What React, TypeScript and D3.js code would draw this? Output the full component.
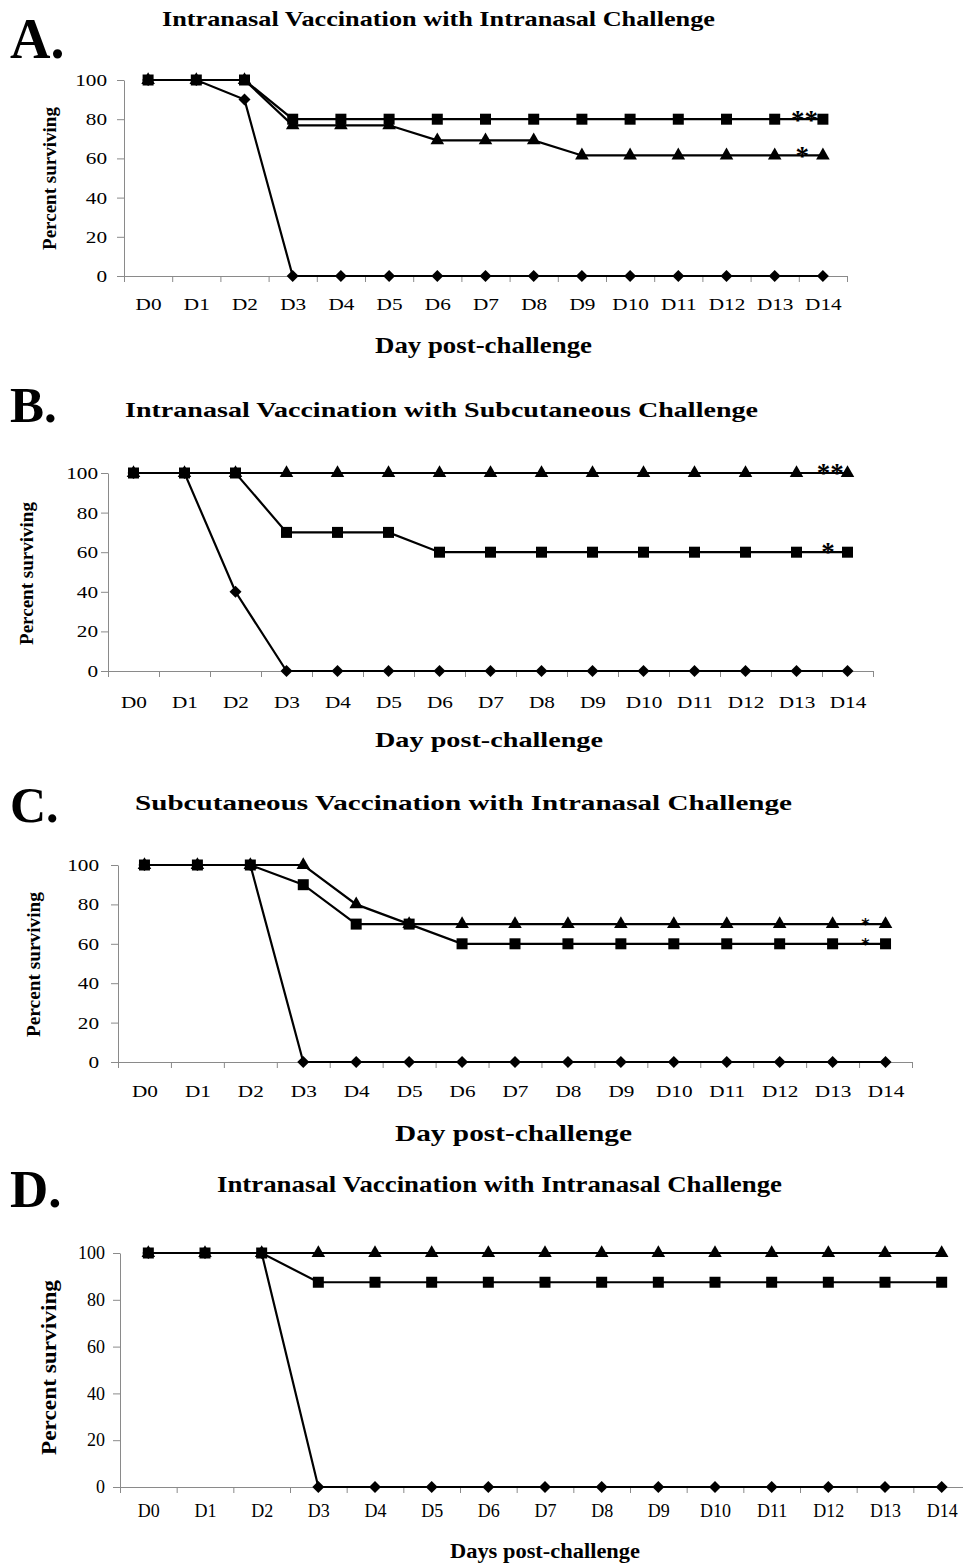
import React, { useEffect, useRef } from "react";
import * as d3 from "d3";

// days on the x axis, same for every panel
const days = ["D0", "D1", "D2", "D3", "D4", "D5", "D6", "D7", "D8", "D9", "D10", "D11", "D12", "D13", "D14"];
const yTicks = [0, 20, 40, 60, 80, 100];

const titleA = "Intranasal Vaccination with Intranasal Challenge";
const titleB = "Intranasal Vaccination with Subcutaneous Challenge";
const titleC = "Subcutaneous Vaccination with Intranasal Challenge";
const titleD = "Intranasal Vaccination with Intranasal Challenge";
const dayTitle = "Day post-challenge";
const daysTitle = "Days post-challenge";
const yTitle = "Percent surviving";

// panel A
const aDiamond = [100, 100, 90, 0, 0, 0, 0, 0, 0, 0, 0, 0, 0, 0, 0];
const aTriangle = [100, 100, 100, 76.9, 76.9, 76.9, 69.2, 69.2, 69.2, 61.5, 61.5, 61.5, 61.5, 61.5, 61.5];
const aSquare = [100, 100, 100, 80, 80, 80, 80, 80, 80, 80, 80, 80, 80, 80, 80];
const aStars = [{ label: "**", at: 13.62, value: 80 }, { label: "*", at: 13.57, value: 61.5 }];

// panel B
const bDiamond = [100, 100, 40, 0, 0, 0, 0, 0, 0, 0, 0, 0, 0, 0, 0];
const bTriangle = [100, 100, 100, 100, 100, 100, 100, 100, 100, 100, 100, 100, 100, 100, 100];
const bSquare = [100, 100, 100, 70, 70, 70, 60, 60, 60, 60, 60, 60, 60, 60, 60];
const bStars = [{ label: "**", at: 13.66, value: 100 }, { label: "*", at: 13.62, value: 60 }];

// panel C
const cDiamond = [100, 100, 100, 0, 0, 0, 0, 0, 0, 0, 0, 0, 0, 0, 0];
const cTriangle = [100, 100, 100, 100, 80, 70, 70, 70, 70, 70, 70, 70, 70, 70, 70];
const cSquare = [100, 100, 100, 90, 70, 70, 60, 60, 60, 60, 60, 60, 60, 60, 60];
const cStars = [{ label: "*", at: 13.62, value: 70 }, { label: "*", at: 13.62, value: 60 }];

// panel D
const dDiamond = [100, 100, 100, 0, 0, 0, 0, 0, 0, 0, 0, 0, 0, 0, 0];
const dTriangle = [100, 100, 100, 100, 100, 100, 100, 100, 100, 100, 100, 100, 100, 100, 100];
const dSquare = [100, 100, 100, 87.5, 87.5, 87.5, 87.5, 87.5, 87.5, 87.5, 87.5, 87.5, 87.5, 87.5, 87.5];
const dStars: { label: string; at: number; value: number }[] = [];

const FONT = "'Liberation Serif', 'Times New Roman', Times, serif";
const STAR_FONT_C = "'DejaVu Sans', sans-serif";
const AXIS = "#8a8a8a";

// layout of the four stacked panels (pixels)
const panels = [
  {
    letter: "A.", title: titleA, xTitle: dayTitle, diamond: aDiamond, triangle: aTriangle, square: aSquare, stars: aStars,
    letterBase: 58, letterSize: 56, titleX: [162, 715], titleBase: 26, titleSize: 22,
    x: [124, 847], y: [276, 80], yPad: 10, xPad: 22, tickFont: 17, stretch: 1.25,
    xTitleX: [375, 592], xTitleBase: 353, xTitleSize: 23,
    yTitleX: 56, yTitleY: [107, 250], yTitleSize: 19,
    starSize: 27, starDy: 10, starFont: FONT,
  },
  {
    letter: "B.", title: titleB, xTitle: dayTitle, diamond: bDiamond, triangle: bTriangle, square: bSquare, stars: bStars,
    letterBase: 422, letterSize: 51, titleX: [125, 758], titleBase: 417, titleSize: 22,
    x: [108, 873], y: [671, 473], yPad: 3, xPad: 25, tickFont: 17, stretch: 1.25,
    xTitleX: [375, 603], xTitleBase: 747, xTitleSize: 21,
    yTitleX: 33, yTitleY: [502, 645], yTitleSize: 19,
    starSize: 27, starDy: 9, starFont: FONT,
  },
  {
    letter: "C.", title: titleC, xTitle: dayTitle, diamond: cDiamond, triangle: cTriangle, square: cSquare, stars: cStars,
    letterBase: 822, letterSize: 50, titleX: [135, 792], titleBase: 810, titleSize: 22,
    x: [118, 912], y: [1062, 865], yPad: 12, xPad: 23, tickFont: 17, stretch: 1.25,
    xTitleX: [395, 632], xTitleBase: 1141, xTitleSize: 24,
    yTitleX: 40, yTitleY: [892, 1037], yTitleSize: 18,
    starSize: 16, starDy: 6, starFont: STAR_FONT_C,
  },
  {
    letter: "D.", title: titleD, xTitle: daysTitle, diamond: dDiamond, triangle: dTriangle, square: dSquare, stars: dStars,
    letterBase: 1207, letterSize: 53, titleX: [217, 782], titleBase: 1192, titleSize: 24,
    x: [120, 970], y: [1487, 1253], yPad: 8, xPad: 17, tickFont: 18, stretch: 1.0,
    xTitleX: [450, 640], xTitleBase: 1558, xTitleSize: 20,
    yTitleX: 56, yTitleY: [1280, 1455], yTitleSize: 22,
    starSize: 22, starDy: 8, starFont: FONT,
  },
];

const App = () => {
  const ref = useRef<SVGSVGElement>(null);

  useEffect(() => {
    const svg = d3.select(ref.current);
    svg.selectAll("*").remove();

    panels.forEach((p) => {
      const g = svg.append("g");
      const xs = d3.scaleLinear().domain([-0.5, days.length - 0.5]).range(p.x);
      const ys = d3.scaleLinear().domain([0, 100]).range(p.y);

      // panel letter and title
      g.append("text")
        .attr("x", 10).attr("y", p.letterBase)
        .attr("font-size", p.letterSize).attr("font-weight", "bold")
        .text(p.letter);

      g.append("text")
        .attr("x", p.titleX[0]).attr("y", p.titleBase)
        .attr("textLength", p.titleX[1] - p.titleX[0]).attr("lengthAdjust", "spacingAndGlyphs")
        .attr("font-size", p.titleSize).attr("font-weight", "bold")
        .text(p.title);

      // y axis
      const yg = g.append("g")
        .attr("transform", `translate(${p.x[0]},0)`)
        .call(d3.axisLeft(ys).tickValues(yTicks).tickSize(7).tickSizeOuter(0).tickPadding(p.yPad));
      yg.attr("color", AXIS).attr("font-family", FONT).attr("font-size", p.tickFont);
      yg.selectAll("text")
        .attr("fill", "#000")
        .attr("transform", function () {
          const tx = +d3.select(this).attr("x");
          return `translate(${tx},0) scale(${p.stretch},1) translate(${-tx},0)`;
        });

      // x axis: ticks between days, labels under days
      g.append("g")
        .attr("transform", `translate(0,${p.y[0]})`)
        .attr("color", AXIS)
        .call(d3.axisBottom(xs).tickValues(d3.range(-0.5, days.length, 1)).tickSize(6).tickSizeOuter(0).tickFormat(() => ""));

      const xl = g.append("g")
        .attr("transform", `translate(0,${p.y[0]})`)
        .call(d3.axisBottom(xs).tickValues(d3.range(days.length)).tickSize(0).tickPadding(p.xPad).tickFormat((i) => days[+i]));
      xl.select(".domain").remove();
      xl.attr("font-family", FONT).attr("font-size", p.tickFont);
      xl.selectAll("text").attr("fill", "#000").attr("transform", `scale(${p.stretch},1)`);

      // axis titles
      g.append("text")
        .attr("x", p.xTitleX[0]).attr("y", p.xTitleBase)
        .attr("textLength", p.xTitleX[1] - p.xTitleX[0]).attr("lengthAdjust", "spacingAndGlyphs")
        .attr("font-size", p.xTitleSize).attr("font-weight", "bold")
        .text(p.xTitle);

      g.append("text")
        .attr("transform", `translate(${p.yTitleX},${p.yTitleY[1]}) rotate(-90)`)
        .attr("textLength", p.yTitleY[1] - p.yTitleY[0]).attr("lengthAdjust", "spacingAndGlyphs")
        .attr("font-size", p.yTitleSize).attr("font-weight", "bold")
        .text(yTitle);

      // series: diamonds, triangles, squares (squares end up on top)
      const line = d3.line<number>().x((d, i) => xs(i)).y((d) => ys(d));
      const series = [
        { values: p.diamond, shape: d3.symbol(d3.symbolSquare, 72), rot: 45 },
        { values: p.triangle, shape: d3.symbol(d3.symbolTriangle, 80), rot: 0 },
        { values: p.square, shape: d3.symbol(d3.symbolSquare, 121), rot: 0 },
      ];
      series.forEach((s) => {
        g.append("path")
          .attr("d", line(s.values))
          .attr("fill", "none").attr("stroke", "#000").attr("stroke-width", 2.2);
        g.selectAll(null)
          .data(s.values)
          .join("path")
          .attr("d", s.shape())
          .attr("transform", (d, i) => `translate(${xs(i)},${ys(d)}) rotate(${s.rot})`)
          .attr("fill", "#000");
      });

      // significance stars
      g.selectAll(null)
        .data(p.stars)
        .join("text")
        .attr("x", (d) => xs(d.at))
        .attr("y", (d) => ys(d.value) + p.starDy)
        .attr("text-anchor", "middle")
        .attr("font-family", p.starFont)
        .attr("font-size", p.starSize).attr("font-weight", "bold")
        .text((d) => d.label);
    });
  }, []);

  return (
    <svg
      ref={ref}
      width={963}
      height={1567}
      fontFamily={FONT}
      style={{ position: "absolute", left: 0, top: 0, background: "#fff" }}
    />
  );
};

export default App;
